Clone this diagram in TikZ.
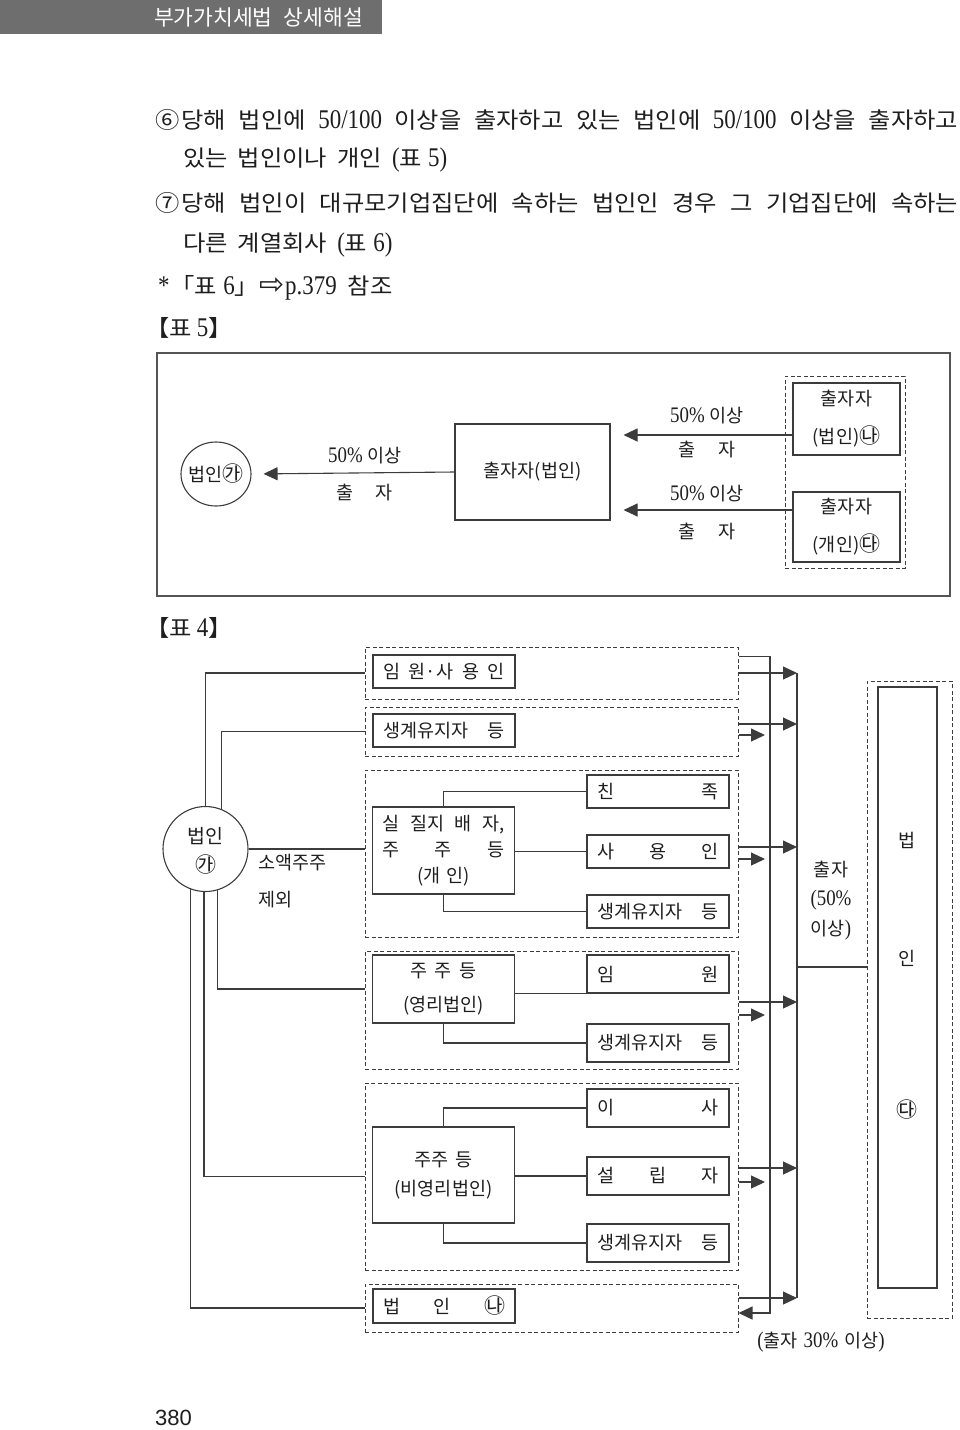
\documentclass[tikz,border=0pt]{standalone}
\usepackage{fontspec}
\setmainfont{Noto Sans CJK KR}
\newfontfamily\bdf[FakeStretch=1.08]{Noto Sans CJK KR}
\newfontfamily\lt[Scale=1.2,FakeStretch=0.85]{Liberation Serif}
\newfontfamily\dv{DejaVu Sans}
\newfontfamily\ls{Liberation Sans}
\usetikzlibrary{arrows.meta,shapes.geometric,calc}
\definecolor{lc}{HTML}{3C3C3C}
\definecolor{hdr}{HTML}{6E6E6E}
\definecolor{tx}{HTML}{1E1E1E}
\definecolor{frm}{HTML}{555555}
\newcommand{\cg}[1]{{\fontsize{21}{21}\selectfont #1}}
\begin{document}
\begin{tikzpicture}[x=1pt,y=-1pt,
  every node/.style={text=tx, inner sep=0pt, font=\fontsize{18.5}{22}\selectfont},
  bx/.style={draw=lc, line width=1.1pt, minimum width=142pt, minimum height=33pt, align=center},
  dbx/.style={draw=lc, line width=1pt, dash pattern=on 4pt off 2.5pt, minimum width=373pt},
  ln/.style={draw=lc, line width=1.1pt},
  arr/.style={draw=lc, line width=1.1pt, -{Triangle[length=14pt,width=13pt]}},
  body/.style={anchor=west, font=\bdf\fontsize{22.5}{26}\selectfont}
]
\useasboundingbox (0,0) rectangle (960,1430);

% header
\fill[hdr] (0,0) rectangle (382,34);
\node[anchor=east, text=white, font=\fontsize{21.5}{22}\selectfont] (hd) at (363,17) {부가가치세법\hspace{11pt}상세해설};

% body text
\node[body] (t1) at (155,120) {\makebox[803pt][s]{⑥\kern2pt 당해 법인에 {\lt 50/100} 이상을 출자하고 있는 법인에 {\lt 50/100} 이상을 출자하고}};
\node[body] (t2) at (183,160) {있는\hspace{10pt}법인이나\hspace{10pt}개인\hspace{10pt}{\lt (}표\hspace{6pt}{\lt 5)}};
\node[body] (t3) at (155,203) {\makebox[803pt][s]{⑦\kern2pt 당해 법인이 대규모기업집단에 속하는 법인인 경우 그 기업집단에 속하는}};
\node[body] (t4) at (183,245) {다른\hspace{10pt}계열회사\hspace{10pt}{\lt (}표\hspace{6pt}{\lt 6)}};
\node[body] (t5) at (158,288) {{\lt *}\kern1pt「표\hspace{6pt}{\lt 6}」{\dv\fontsize{30}{30}\selectfont ⇨}\kern1pt{\lt p.379}\hspace{11pt}참조};
\node[body] (t6) at (145,328) {【표\hspace{5pt}{\lt 5}】};

% ---------- Table 5 ----------
\node[draw=frm, line width=1.5pt, minimum width=793pt, minimum height=243pt] (tb5) at (553.5,474.5) {};
\node[draw=lc, line width=1.1pt, ellipse, minimum width=70pt, minimum height=64pt] (ga5) at (216,474) {\makebox[0pt]{법인\cg{㉮}}};
\node[bx, minimum width=155pt, minimum height=96pt] (b5) at (532.5,472) {출자자(법인)};
\node[dbx, minimum width=120pt, minimum height=192pt] (d5) at (845,472) {};
\node[bx, minimum width=107pt, minimum height=72pt] (na5) at (846.5,419) {출자자\\[16pt](법인)\cg{㉯}};
\node[bx, minimum width=107pt, minimum height=70pt] (da5) at (846.5,527) {출자자\\[16pt](개인)\cg{㉰}};

\draw[arr, shorten >=12pt] (b5.west) -- (ga5.east);
\coordinate (p1) at ([yshift=-16pt]na5.west);
\coordinate (p2) at ([yshift=17pt]da5.west);
\draw[arr, shorten >=13pt] (p1) -- (p1 -| b5.east);
\draw[arr, shorten >=13pt] (p2) -- (p2 -| b5.east);

\node (m1) at (365,456) {{\lt 50\%}\hspace{5pt}이상};
\node (m2) at (365,493) {출\hspace{22pt}자};
\node (m3) at (707,416) {{\lt 50\%}\hspace{5pt}이상};
\node (m4) at (707,450) {출\hspace{22pt}자};
\node (m5) at (707,494) {{\lt 50\%}\hspace{5pt}이상};
\node (m6) at (707,532) {출\hspace{22pt}자};

\node[body] (t7) at (145,628) {【표\hspace{5pt}{\lt 4}】};

% ---------- Table 4 ----------
\node[dbx, minimum height=52pt] (g1) at (551.5,673) {};
\node[dbx, minimum height=49pt] (g2) at (551.5,731.5) {};
\node[dbx, minimum height=167pt] (g3) at (551.5,853.5) {};
\node[dbx, minimum height=118pt] (g4) at (551.5,1010) {};
\node[dbx, minimum height=187pt] (g5) at (551.5,1176.5) {};
\node[dbx, minimum height=48pt] (g6) at (551.5,1308) {};

\node[bx] (e1) at (444,671.5) {\makebox[122pt][s]{임 원·사 용 인}};
\node[bx] (e2) at (444,730.5) {\makebox[122pt]{생계유지자\hfill 등}};
\node[bx, minimum height=87pt] (e3) at (443.5,850.5) {\makebox[122pt][s]{실 질지 배 자,}\\[4pt]\makebox[122pt][s]{주 주 등}\\[4pt](개\hspace{6pt}인)};
\node[bx, minimum height=68pt] (e4) at (443.5,989) {주\hspace{7pt}주\hspace{7pt}등\\[12pt](영리법인)};
\node[bx, minimum height=96pt] (e5) at (443.5,1175) {주주\hspace{7pt}등\\[7pt](비영리법인)};
\node[bx, minimum height=34pt] (e6) at (444,1306) {\makebox[122pt][s]{법 인 \cg{㉯}}};

\node[bx] (k1) at (658,791.5) {\makebox[122pt][s]{친 족}};
\node[bx] (k2) at (658,851.5) {\makebox[122pt][s]{사 용 인}};
\node[bx] (k3) at (658,911.5) {\makebox[122pt]{생계유지자\hfill 등}};
\node[bx, minimum height=38pt] (k4) at (658,974) {\makebox[122pt][s]{임 원}};
\node[bx, minimum height=38pt] (k5) at (658,1043) {\makebox[122pt]{생계유지자\hfill 등}};
\node[bx, minimum height=38pt] (k6) at (658,1108) {\makebox[122pt][s]{이 사}};
\node[bx, minimum height=38pt] (k7) at (658,1176) {\makebox[122pt][s]{설 립 자}};
\node[bx, minimum height=38pt] (k8) at (658,1243) {\makebox[122pt]{생계유지자\hfill 등}};

% 법인 (가) circle
\node[draw=lc, line width=1.1pt, circle, minimum size=85pt] (ga4) at (205.5,849) {};
\node[font=\fontsize{19.5}{22}\selectfont] (ga4t) at (205.5,836) {법인};
\node[font=\fontsize{21}{22}\selectfont] (ga4c) at (205.5,865) {㉮};
\node[anchor=west] (sa1) at (258,863) {소액주주};
\node[anchor=west] (sa2) at (258,900) {제외};

% right dashed block
\node[dbx, minimum width=85pt, minimum height=637pt] (rd) at (909.5,999.5) {};
\node[draw=lc, line width=1.1pt, minimum width=59pt, minimum height=601pt] (ri) at (907.5,987.5) {};
\node (r1) at (907,840) {법};
\node (r2) at (907,958) {인};
\node[font=\fontsize{21}{22}\selectfont] (r3) at (907,1110) {㉰};

\node (o1) at (831,870) {출자};
\node (o2) at (831,900) {{\lt (50\%}};
\node (o3) at (831,930) {이상{\lt )}};
\node (o4) at (821,1342) {{\lt (}출자\hspace{6pt}{\lt 30\%}\hspace{6pt}이상{\lt )}};

% circle to groups
\draw[ln] (ga4.north) |- (g1.west);
\draw[ln] (ga4.68) |- (g2.west);
\draw[ln] (ga4.east) -- (ga4.east -| g3.west);
\draw[ln] (ga4.-74) |- (e4.west -| g4.west);
\draw[ln] (ga4.-92) |- (g5.west);
\draw[ln] (ga4.-110) |- (g6.west);

% internal connectors
\draw[ln] (e3.north) |- (k1.west);
\draw[ln] (e3.east |- k2.west) -- (k2.west);
\draw[ln] (e3.south) |- (k3.west);
\draw[ln] (e4.east |- k4.south west) -- (k4.south west);
\draw[ln] (e4.south) |- (k5.west);
\draw[ln] (e5.north) |- (k6.west);
\draw[ln] (e5.east |- k7.west) -- (k7.west);
\draw[ln] (e5.south) |- (k8.west);

% buses
\coordinate (bA) at (770,0);
\coordinate (bB) at (797,0);
\coordinate (a1) at ([yshift=-10pt]g1.north east);
\coordinate (r6) at ([yshift=-5pt]g6.east);
\draw[arr] (a1) -| (r6 -| bA) -- (r6);

\coordinate (q1) at (g1.east);
\coordinate (q2) at ([yshift=7.5pt]g2.east);
\coordinate (q3) at ([yshift=6.5pt]g3.east);
\coordinate (q4) at ([yshift=8pt]g4.east);
\coordinate (q5) at ([yshift=8.5pt]g5.east);
\coordinate (q6) at ([yshift=10pt]g6.east);
\draw[ln] (q1 -| bB) -- (q6 -| bB);
\foreach \q in {q1,q2,q3,q4,q5,q6} {\draw[arr] (\q) -- (\q -| bB);}

\coordinate (s2) at ([yshift=-3.5pt]g2.east);
\coordinate (s3) at ([yshift=-5.5pt]g3.east);
\coordinate (s4) at ([yshift=-5pt]g4.east);
\coordinate (s5) at ([yshift=-5.5pt]g5.east);
\foreach \s in {s2,s3,s4,s5} {\draw[arr, shorten >=5pt] (\s) -- (\s -| bA);}

\coordinate (c50) at ([yshift=32.5pt]rd.west);
\draw[ln] (c50 -| bB) -- (c50);

% page number
\node[anchor=west, font=\ls\fontsize{22}{22}\selectfont] (pg) at (155,1418) {380};
\end{tikzpicture}
\end{document}
